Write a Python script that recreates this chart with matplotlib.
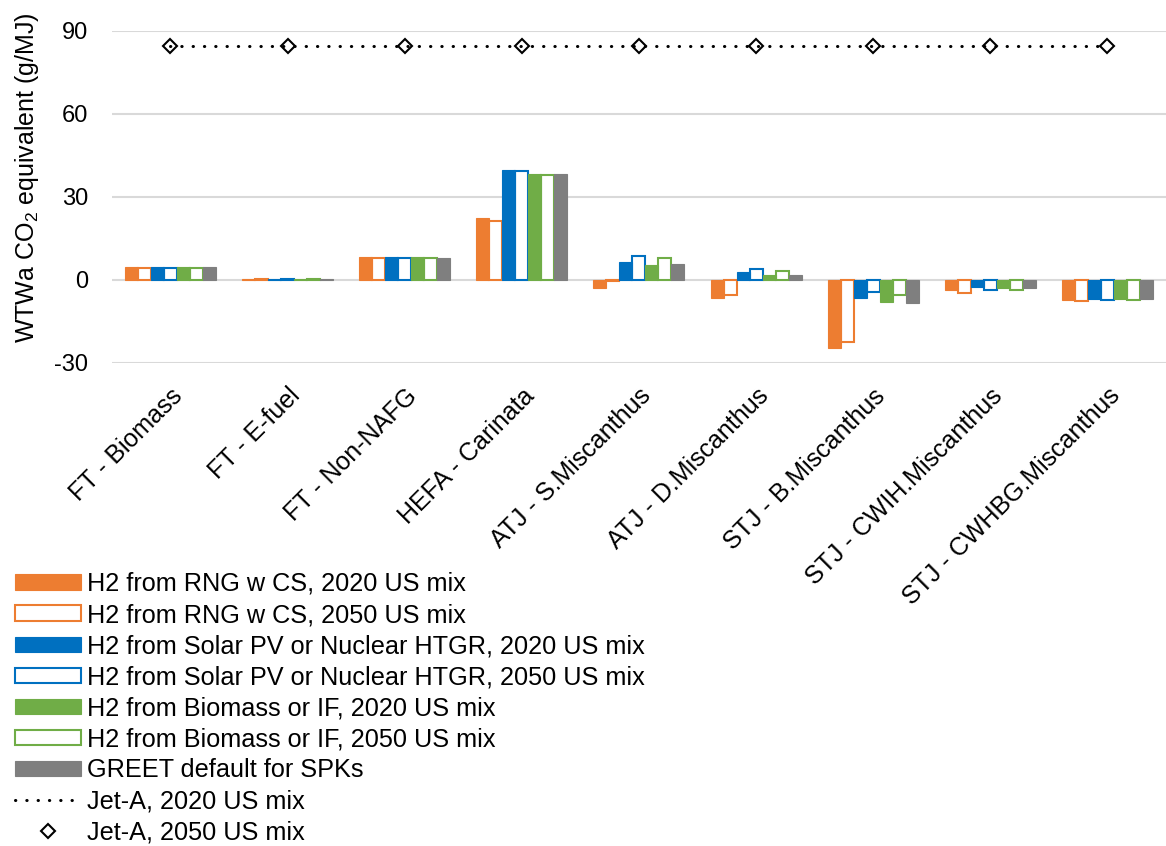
import numpy as np
import matplotlib
matplotlib.use('Agg')
from matplotlib import pyplot as plt
from matplotlib.transforms import ScaledTranslation

plt.rcParams['font.family'] = ['Liberation Sans', 'DejaVu Sans']
plt.rcParams['mathtext.fontset'] = 'custom'
plt.rcParams['mathtext.rm'] = 'Liberation Sans'
plt.rcParams['mathtext.default'] = 'regular'
plt.rcParams['axes.unicode_minus'] = False

categories = ['FT - Biomass', 'FT - E-fuel', 'FT - Non-NAFG', 'HEFA - Carinata',
              'ATJ - S.Miscanthus', 'ATJ - D.Miscanthus', 'STJ - B.Miscanthus',
              'STJ - CWIH.Miscanthus', 'STJ - CWHBG.Miscanthus']

rng_2020 = [4.6, 0.5, 8.2, 22.2, -3.1, -6.7, -24.7, -3.7, -7.4]
rng_2050 = [4.3, 0.5, 7.8, 21.3, -0.5, -5.5, -22.3, -4.9, -7.8]
solar_2020 = [4.8, 0.5, 8.2, 39.8, 6.4, 2.8, -6.4, -2.5, -6.8]
solar_2050 = [4.3, 0.5, 7.8, 39.3, 8.5, 3.8, -4.2, -3.5, -7.1]
bio_2020 = [4.8, 0.5, 8.2, 38.4, 5.5, 1.7, -8.0, -2.9, -6.8]
bio_2050 = [4.3, 0.5, 7.8, 37.8, 7.8, 3.2, -5.6, -3.5, -7.1]
greet = [4.6, 0.5, 7.9, 38.4, 5.6, 1.8, -8.2, -2.8, -6.8]
jet_2020 = [84.5] * 9
jet_2050 = [84.5] * 9

orange = '#ED7D31'
blue = '#0070C0'
green = '#70AD47'
gray = '#7F7F7F'

series = [
    (rng_2020, orange, True, 'H2 from RNG w CS, 2020 US mix'),
    (rng_2050, orange, False, 'H2 from RNG w CS, 2050 US mix'),
    (solar_2020, blue, True, 'H2 from Solar PV or Nuclear HTGR, 2020 US mix'),
    (solar_2050, blue, False, 'H2 from Solar PV or Nuclear HTGR, 2050 US mix'),
    (bio_2020, green, True, 'H2 from Biomass or IF, 2020 US mix'),
    (bio_2050, green, False, 'H2 from Biomass or IF, 2050 US mix'),
    (greet, gray, True, 'GREET default for SPKs'),
]

fig = plt.figure(figsize=(11.66, 8.46), dpi=100)
ax = fig.add_axes([0.096, 0.571, 0.904, 0.3926])

x = np.arange(len(categories))
w = 0.111
handles = []
for j, (vals, col, filled, lab) in enumerate(series):
    pos = x + (j - 3) * w
    if filled:
        b = ax.bar(pos, vals, w, color=col, edgecolor=col, linewidth=0.8, label=lab, zorder=3)
    else:
        b = ax.bar(pos, vals, w, facecolor='white', edgecolor=col, linewidth=1.5, label=lab, zorder=2)
    handles.append(b)

l1, = ax.plot(x, jet_2020, color='black', lw=2.2, linestyle=(0, (0.1, 3.6)),
              dash_capstyle='round', zorder=5, label='Jet-A, 2020 US mix')
l2, = ax.plot(x, jet_2050, ls='none', marker='D', ms=7, mfc='white', mec='black',
              mew=1.5, zorder=4, label='Jet-A, 2050 US mix')
handles += [l1, l2]

ax.set_xlim(-0.5, len(categories) - 0.5)
ax.set_ylim(-30, 90)
ax.set_yticks([-30, 0, 30, 60, 90])
ax.yaxis.grid(True, color='#D9D9D9', lw=1.5, zorder=0)
ax.set_axisbelow(True)
for s in ax.spines.values():
    s.set_visible(False)
ax.tick_params(axis='both', length=0)
ax.tick_params(axis='y', pad=17, labelsize=17)
ax.set_xticks(x)
ax.set_xticklabels(categories, rotation=45, ha='right', va='top',
                   rotation_mode='anchor', fontsize=18)
ax.tick_params(axis='x', pad=15)
for lbl in ax.get_xticklabels():
    lbl.set_transform(lbl.get_transform() + ScaledTranslation(0.0, 0, fig.dpi_scale_trans))

fig.text(27 / 1166, 1 - 178 / 846, r'WTWa CO$_2$ equivalent (g/MJ)', rotation=90,
         ha='center', va='center', fontsize=18)

fig.legend(handles=handles, loc='upper left', bbox_to_anchor=(15 / 1166, 1 - 572 / 846),
           frameon=False, fontsize=18.2, handlelength=2.6, handleheight=0.56,
           handletextpad=0.25, labelspacing=0.28, borderaxespad=0, borderpad=0)

fig.savefig('out.png', dpi=100)
